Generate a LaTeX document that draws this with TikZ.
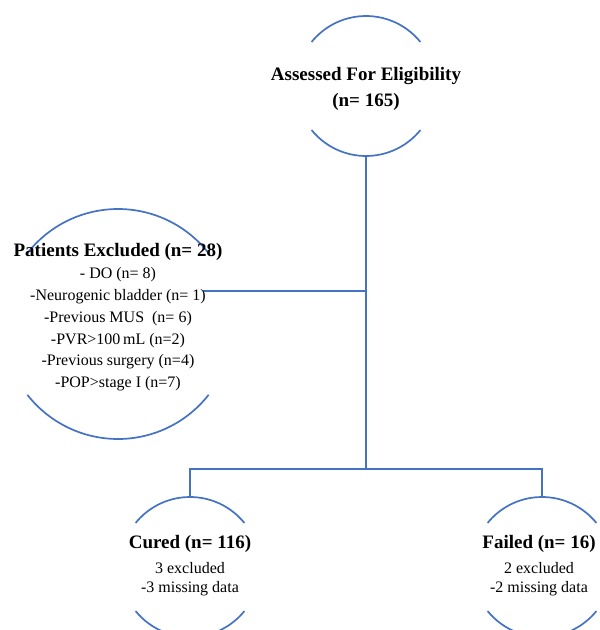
\documentclass[tikz,border=0pt]{standalone}
\usepackage{fontspec}
\setmainfont{Liberation Serif}
\definecolor{lineblue}{RGB}{68,114,196}
\begin{document}
\begin{tikzpicture}[x=1pt,y=1pt,
  link/.style={draw=lineblue,line width=1.7pt},
  ring/.style={circle,minimum size=140pt,inner sep=0pt,outer sep=0pt},
  boldtxt/.style={font=\fontsize{19}{22}\selectfont\bfseries,anchor=base,inner sep=0pt},
  regtxt/.style={font=\fontsize{16}{20}\selectfont,anchor=base,inner sep=0pt}]
\useasboundingbox (0,0) rectangle (600,-630);
\clip (0,0) rectangle (600,-630);
% circles (drawn as arcs)
\node[ring] (assess) at (366,-86) {};
\node[ring,minimum size=230pt] (excl) at (118,-324) {};
\node[ring] (cured) at (190,-567) {};
\node[ring] (failed) at (542,-567) {};
\draw[link] (assess.39) arc[start angle=39,end angle=141,radius=70pt];
\draw[link] (assess.219) arc[start angle=219,end angle=321,radius=70pt];
\draw[link] (excl.37) arc[start angle=37,end angle=143,radius=115pt];
\draw[link] (excl.218) arc[start angle=218,end angle=322,radius=115pt];
\draw[link] (cured.39) arc[start angle=39,end angle=141,radius=70pt];
\draw[link] (cured.219) arc[start angle=219,end angle=321,radius=70pt];
\draw[link] (failed.39) arc[start angle=39,end angle=141,radius=70pt];
\draw[link] (failed.219) arc[start angle=219,end angle=321,radius=70pt];
% connectors
\coordinate (split) at (366,-469);
\coordinate (exclend) at (203,-291);
\coordinate (excljoin) at (366,-291);
\draw[link] (assess.south) -- (split);
\draw[link] (exclend) -- (excljoin);
\draw[link] (cured.north) |- (split) -| (failed.north);
% texts
\node[boldtxt] (assessT1) at (366,-80) {Assessed For Eligibility};
\node[boldtxt] (assessT2) at (366,-106) {(n= 165)};
\node[boldtxt] (exclT0) at (118,-256) {Patients Excluded (n= 28)};
\node[regtxt] (exclT1) at (118,-278) {- DO (n= 8)};
\node[regtxt] (exclT2) at (118,-300) {-Neurogenic bladder (n= 1)};
\node[regtxt] (exclT3) at (118,-322) {-Previous MUS~ (n= 6)};
\node[regtxt] (exclT4) at (118,-344) {-PVR>100\,mL (n=2)};
\node[regtxt] (exclT5) at (118,-365) {-Previous surgery (n=4)};
\node[regtxt] (exclT6) at (118,-387) {-POP>stage I (n=7)};
\node[boldtxt] (curedT0) at (190,-548) {Cured (n= 116)};
\node[regtxt] (curedT1) at (190,-573) {3 excluded};
\node[regtxt] (curedT2) at (190,-592) {-3 missing data};
\node[boldtxt] (failedT0) at (539,-548) {Failed (n= 16)};
\node[regtxt] (failedT1) at (539,-573) {2 excluded};
\node[regtxt] (failedT2) at (539,-592) {-2 missing data};
\end{tikzpicture}
\end{document}
